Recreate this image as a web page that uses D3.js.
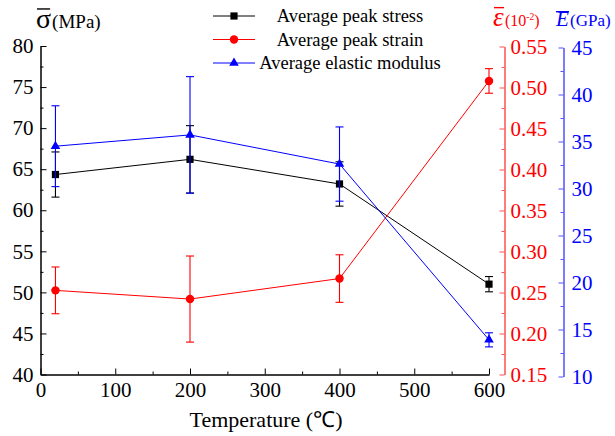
<!DOCTYPE html>
<html>
<head>
<meta charset="utf-8">
<script src="https://cdn.jsdelivr.net/npm/d3@7"></script>
<style>
  body { margin: 0; background: #fff; }
</style>
</head>
<body>
<svg id="chart" width="615" height="436"></svg>
<script>
// data
const temperatures = [20, 200, 400, 600];
const stress = [64.35, 66.2, 63.2, 51.0];
const stressErr = [2.75, 4.1, 2.7, 0.93];
const strain = [0.2526, 0.242, 0.267, 0.508];
const strainErr = [0.0285, 0.0525, 0.029, 0.015];
const modulus = [34.5, 35.7, 32.6, 13.9];
const modulusErr = [4.3, 6.2, 3.95, 0.75];

const xTicks = [0, 100, 200, 300, 400, 500, 600];
const stressTicks = [40, 45, 50, 55, 60, 65, 70, 75, 80];
const strainTicks = [0.15, 0.20, 0.25, 0.30, 0.35, 0.40, 0.45, 0.50, 0.55];
const modulusTicks = [10, 15, 20, 25, 30, 35, 40, 45];
const legendLabels = ["Average peak stress", "Average peak strain", "Average elastic modulus"];

const svg = d3.select("#chart");

const x = d3.scaleLinear().domain([0, 600]).range([40.5, 489]);
const yStress = d3.scaleLinear().domain([40, 80]).range([374.5, 46]);
const yStrain = d3.scaleLinear().domain([0.15, 0.55]).range([374.5, 46.5]);
const yModulus = d3.scaleLinear().domain([10, 45]).range([376.5, 47.5]);

const redAxis = "#ff5050";
const blueAxis = "#5050ff";

function minorValues(major, step) {
  const out = [];
  for (let i = 0; i < major.length - 1; i++) out.push(major[i] + step);
  return out;
}

// left axis
const gLeft = svg.append("g").attr("transform", "translate(40.5,0)");
gLeft.call(d3.axisLeft(yStress).tickValues(stressTicks).tickSizeInner(-6).tickSizeOuter(0).tickPadding(7));
gLeft.append("g").call(d3.axisLeft(yStress).tickValues(minorValues(stressTicks, 2.5)).tickSizeInner(-3).tickSizeOuter(0).tickFormat(""));

// bottom axis
const gBottom = svg.append("g").attr("transform", "translate(0,374.5)");
gBottom.call(d3.axisBottom(x).tickValues(xTicks).tickSizeInner(-6).tickSizeOuter(0).tickPadding(8));
gBottom.append("g").call(d3.axisBottom(x).tickValues(minorValues(xTicks, 50)).tickSizeInner(-3).tickSizeOuter(0).tickFormat(""));

// red right axis
const gRed = svg.append("g").attr("transform", "translate(504.5,0)");
gRed.call(d3.axisRight(yStrain).tickValues(strainTicks).tickSizeInner(-5).tickSizeOuter(0).tickPadding(6).tickFormat(d3.format(".2f")));
gRed.append("g").call(d3.axisRight(yStrain).tickValues(minorValues(strainTicks, 0.025)).tickSizeInner(-3).tickSizeOuter(0).tickFormat(""));

// blue right axis
const gBlue = svg.append("g").attr("transform", "translate(563.5,0)");
gBlue.call(d3.axisRight(yModulus).tickValues(modulusTicks).tickSizeInner(-5).tickSizeOuter(0).tickPadding(8));
gBlue.append("g").call(d3.axisRight(yModulus).tickValues(minorValues(modulusTicks, 2.5)).tickSizeInner(-3).tickSizeOuter(0).tickFormat(""));

svg.selectAll(".tick text").style("font-size", "21px");
gLeft.selectAll("path, line").attr("stroke", "#000");
gBottom.selectAll("path, line").attr("stroke", "#000");
gRed.selectAll("path, line").attr("stroke", redAxis);
gRed.selectAll("text").attr("fill", "#ff0000");
gBlue.selectAll("path, line").attr("stroke", blueAxis);
gBlue.selectAll("text").attr("fill", "#0000ff");

// axis titles
svg.append("text").attr("x", 266).attr("y", 427).attr("text-anchor", "middle")
  .style("font-family", "Liberation Serif").attr("font-size", 22).text("Temperature (\u2103)");

function symbolTitle(xPos, baseline, symbol, symSize, italic, unit, unitSize, color, supText) {
  const sym = svg.append("text").attr("x", xPos).attr("y", baseline)
    .style("font-family", "Liberation Serif")
    .attr("font-size", symSize).attr("fill", color)
    .attr("font-style", italic ? "italic" : "normal").text(symbol);
  const b = sym.node().getBBox();
  svg.append("line").attr("x1", b.x + 1).attr("x2", b.x + b.width - (italic ? 0 : 1))
    .attr("y1", baseline - symSize * 0.68).attr("y2", baseline - symSize * 0.68)
    .attr("stroke", color).attr("stroke-width", 1.4);
  const u = svg.append("text").attr("x", b.x + b.width + 1).attr("y", baseline)
    .style("font-family", "Liberation Serif")
    .attr("font-size", unitSize).attr("fill", color);
  u.append("tspan").text(unit);
  if (supText) {
    u.append("tspan").attr("font-size", unitSize * 0.6).attr("dy", -unitSize * 0.35).text(supText);
    u.append("tspan").attr("dy", unitSize * 0.35).text(")");
  }
}
symbolTitle(36, 28, "\u03c3", 28, false, "(MPa)", 19, "#000");
symbolTitle(493, 26, "\u03b5", 27, true, "(10", 16, "#ff0000", "-2");
symbolTitle(556, 26, "E", 21, true, "(GPa)", 17, "#0000ff");

// series
const series = [
  { values: stress, err: stressErr, y: yStress, color: "#000", symbol: d3.symbolSquare, size: 52 },
  { values: strain, err: strainErr, y: yStrain, color: "#ff0000", symbol: d3.symbolCircle, size: 56 },
  { values: modulus, err: modulusErr, y: yModulus, color: "#0000ff", symbol: d3.symbolTriangle, size: 40 }
];

series.forEach(s => {
  const g = svg.append("g");
  const pts = temperatures.map((t, i) => ({ t, v: s.values[i], e: s.err[i] }));
  g.append("path").datum(pts)
    .attr("fill", "none").attr("stroke", s.color).attr("stroke-width", 1)
    .attr("d", d3.line().x(d => x(d.t)).y(d => s.y(d.v)));
  const eb = g.selectAll(".err").data(pts).enter().append("g").attr("stroke", s.color).attr("stroke-width", 1.1);
  eb.append("line").attr("x1", d => x(d.t)).attr("x2", d => x(d.t))
    .attr("y1", d => s.y(d.v - d.e)).attr("y2", d => s.y(d.v + d.e));
  eb.append("line").attr("x1", d => x(d.t) - 4).attr("x2", d => x(d.t) + 4)
    .attr("y1", d => s.y(d.v - d.e)).attr("y2", d => s.y(d.v - d.e));
  eb.append("line").attr("x1", d => x(d.t) - 4).attr("x2", d => x(d.t) + 4)
    .attr("y1", d => s.y(d.v + d.e)).attr("y2", d => s.y(d.v + d.e));
  g.selectAll(".mk").data(pts).enter().append("path")
    .attr("transform", d => `translate(${x(d.t)},${s.y(d.v)})`)
    .attr("d", d3.symbol().type(s.symbol).size(s.size)).attr("fill", s.color);
});

// legend
const legendY = d3.scalePoint().domain(legendLabels).range([16, 63]);
const lg = svg.append("g");
legendLabels.forEach((label, i) => {
  const yy = legendY(label);
  const s = series[i];
  lg.append("line").attr("x1", 213).attr("x2", 255).attr("y1", yy).attr("y2", yy)
    .attr("stroke", s.color).attr("stroke-width", 1);
  lg.append("path").attr("transform", `translate(234,${yy})`)
    .attr("d", d3.symbol().type(s.symbol).size(s.size)).attr("fill", s.color);
  lg.append("text").attr("x", 350).attr("y", yy).attr("dy", "0.35em")
    .style("font-family", "Liberation Serif")
    .attr("text-anchor", "middle").attr("font-size", 18.5).text(label);
});

svg.selectAll(".tick text").style("font-family", "Liberation Serif");
</script>
</body>
</html>
